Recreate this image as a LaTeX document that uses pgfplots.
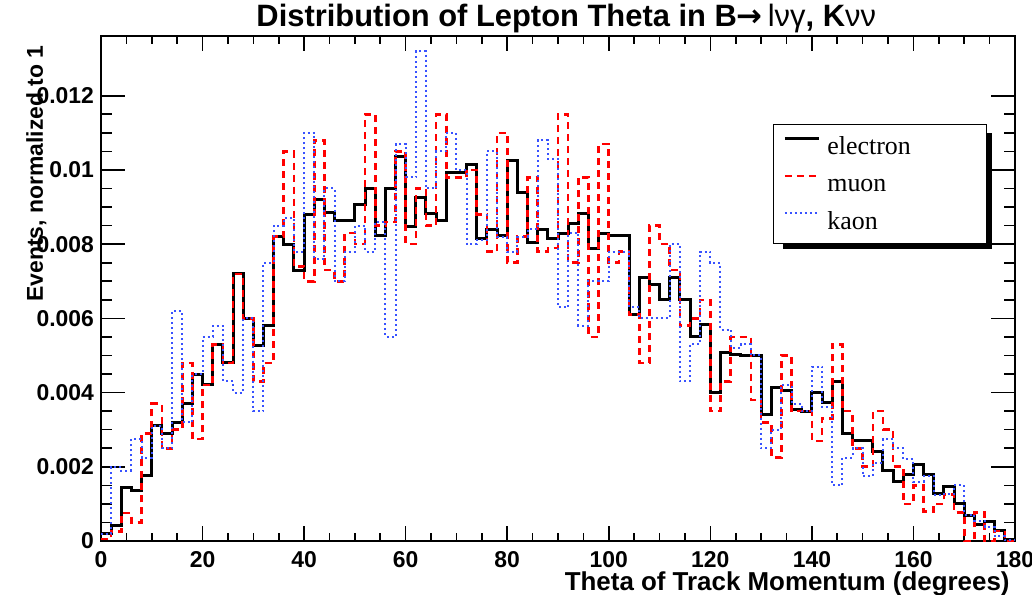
\documentclass[border=0pt]{standalone}
\usepackage{fontspec}
\setmainfont{Liberation Sans}
\newfontfamily\legfont{Liberation Serif}
\newfontfamily\arrowfont{DejaVu Sans}
\usepackage{pgfplots}
\pgfplotsset{compat=1.18}
\usepackage{pgfplotstable}
\pgfdeclarelayer{background}
\pgfsetlayers{background,main}

\definecolor{kaonblue}{rgb}{0.22,0.32,1}

% 2-degree bins, left edges; last row closes the final bin at 180
\pgfplotstableread{
x   e       m       k
0   0.00020 0.00005 0.00020
2   0.00043 0.00025 0.00200
4   0.00145 0.00075 0.00190
6   0.00137 0.00050 0.00275
8   0.00177 0.00290 0.00225
10  0.00310 0.00370 0.00310
12  0.00290 0.00250 0.00250
14  0.00320 0.00300 0.00620
16  0.00370 0.00480 0.00320
18  0.00450 0.00275 0.00450
20  0.00423 0.00420 0.00550
22  0.00530 0.00530 0.00580
24  0.00480 0.00480 0.00430
26  0.00720 0.00720 0.00400
28  0.00600 0.00600 0.00600
30  0.00526 0.00430 0.00350
32  0.00580 0.00480 0.00750
34  0.00820 0.00820 0.00850
36  0.00800 0.01050 0.00870
38  0.00730 0.00740 0.00780
40  0.00880 0.00700 0.01100
42  0.00920 0.01080 0.00760
44  0.00885 0.00730 0.00950
46  0.00865 0.00700 0.00700
48  0.00865 0.00830 0.00780
50  0.00908 0.00800 0.00850
52  0.00949 0.01150 0.00780
54  0.00823 0.00850 0.00860
56  0.00949 0.00860 0.00550
58  0.01036 0.01050 0.01070
60  0.00847 0.00800 0.00980
62  0.00925 0.00950 0.01320
64  0.00883 0.00850 0.00950
66  0.00865 0.01150 0.01050
68  0.00993 0.00980 0.01100
70  0.00993 0.00980 0.01000
72  0.01016 0.01000 0.00800
74  0.00814 0.00880 0.00810
76  0.00840 0.00780 0.01050
78  0.00823 0.01100 0.00820
80  0.01025 0.00750 0.00780
82  0.00940 0.00820 0.00820
84  0.00805 0.00980 0.00840
86  0.00840 0.00780 0.01080
88  0.00814 0.00790 0.01030
90  0.00830 0.01150 0.00630
92  0.00856 0.00750 0.00830
94  0.00883 0.00980 0.00580
96  0.00788 0.00550 0.00700
98  0.00830 0.01070 0.00700
100 0.00823 0.00750 0.00780
102 0.00823 0.00780 0.00780
104 0.00610 0.00610 0.00630
106 0.00710 0.00480 0.00600
108 0.00690 0.00850 0.00600
110 0.00650 0.00800 0.00600
112 0.00710 0.00730 0.00800
114 0.00650 0.00580 0.00430
116 0.00550 0.00600 0.00530
118 0.00584 0.00650 0.00780
120 0.00400 0.00350 0.00750
122 0.00508 0.00430 0.00570
124 0.00503 0.00550 0.00520
126 0.00500 0.00550 0.00530
128 0.00500 0.00380 0.00500
130 0.00340 0.00320 0.00250
132 0.00415 0.00225 0.00300
134 0.00406 0.00500 0.00420
136 0.00355 0.00350 0.00370
138 0.00348 0.00350 0.00350
140 0.00400 0.00270 0.00470
142 0.00374 0.00330 0.00360
144 0.00430 0.00530 0.00150
146 0.00290 0.00350 0.00225
148 0.00272 0.00250 0.00250
150 0.00272 0.00200 0.00175
152 0.00240 0.00350 0.00210
154 0.00190 0.00300 0.00275
156 0.00160 0.00200 0.00250
158 0.00180 0.00100 0.00220
160 0.00205 0.00150 0.00160
162 0.00180 0.00080 0.00175
164 0.00128 0.00100 0.00124
166 0.00146 0.00126 0.00126
168 0.00100 0.00077 0.00150
170 0.00068 0.00000 0.00070
172 0.00045 0.00077 0.00054
174 0.00052 0.00000 0.00038
176 0.00027 0.00027 0.00013
178 0.00003 0.00000 0.00002
180 0.00003 0.00000 0.00002
}\hist

\begin{document}
\begin{tikzpicture}
\begin{axis}[
  scale only axis,
  width=457bp, height=252.5bp,
  xmin=0, xmax=180, ymin=0, ymax=0.01361,
  axis line style={line width=1bp},
  xtick={0,20,40,60,80,100,120,140,160,180},
  xticklabels={0,20,40,60,80,100,120,140,160,180},
  minor x tick num=3,
  ytick={0,0.002,0.004,0.006,0.008,0.01,0.012},
  yticklabels={0,0.002,0.004,0.006,0.008,0.01,0.012},
  minor y tick num=3,
  scaled y ticks=false,
  tick align=inside,
  tick style={line width=0.8bp, black},
  major tick length=12bp, minor tick length=5.5bp,
  xtick style={/pgfplots/major tick length=7.5bp, /pgfplots/minor tick length=4bp},
  /pgf/number format/assume math mode=true,
  ticklabel style={font=\bfseries\fontsize{11.5}{13}\selectfont},
  xticklabel style={yshift=-1.5bp},
  every axis title shift=0pt,
  title={{\bfseries Distribution of Lepton Theta in B}{\arrowfont\bfseries →\,}lνγ{\bfseries , K}νν},
  title style={at={(axis description cs:0.509,1.018)}, anchor=base, inner sep=0pt,
    font=\fontsize{15.5}{17}\selectfont},
  xlabel={Theta of Track Momentum (degrees)},
  xlabel style={at={(axis description cs:0.9945,-0.0594)}, anchor=north east,
    inner sep=0pt, font=\bfseries\fontsize{13}{15}\selectfont},
  ylabel={Events, normalized to 1},
  ylabel style={at={(axis description cs:-0.0635,0.982)}, anchor=base east,
    inner sep=0pt, font=\bfseries\fontsize{11.5}{13}\selectfont},
  legend style={at={(axis description cs:0.735,0.826)}, anchor=north west,
    draw=black, line width=0.6bp, fill=white,
    inner xsep=5bp, inner ysep=4bp, row sep=4.75bp, column sep=3.5bp,
    nodes={inner sep=0pt, text height=11bp, text depth=3bp,
      font=\legfont\fontsize{13}{15}\selectfont},
    name=leg},
  legend cell align=left,
  legend image code/.code={\draw[#1] (0bp,4bp) -- (17bp,4bp);},
]
\coordinate (bl) at (rel axis cs:0,0);
\coordinate (tr) at (rel axis cs:1,1);

\addplot[black, line width=1.5bp, const plot] table[x=x, y=e] {\hist};
\addlegendentry{\makebox[74.5bp][l]{electron}}
\addplot[red, line width=1.3bp, dash pattern=on 3.5bp off 2.5bp, const plot] table[x=x, y=m] {\hist};
\addlegendentry{\makebox[74.5bp][l]{muon}}
\addplot[kaonblue, line width=1bp, dash pattern=on 1bp off 1.5bp, const plot] table[x=x, y=k] {\hist};
\addlegendentry{\makebox[74.5bp][l]{kaon}}
\end{axis}

% offset shadow behind the legend box
\begin{pgfonlayer}{background}
\fill[black] ([xshift=5bp,yshift=-4.5bp]leg.north west) rectangle ([xshift=2.5bp,yshift=-2.5bp]leg.south east);
\end{pgfonlayer}

\pgfresetboundingbox
\path[use as bounding box] ([xshift=-50.5bp,yshift=-27bp]bl) rectangle ([xshift=8.5bp,yshift=18bp]tr);
\end{tikzpicture}
\end{document}
